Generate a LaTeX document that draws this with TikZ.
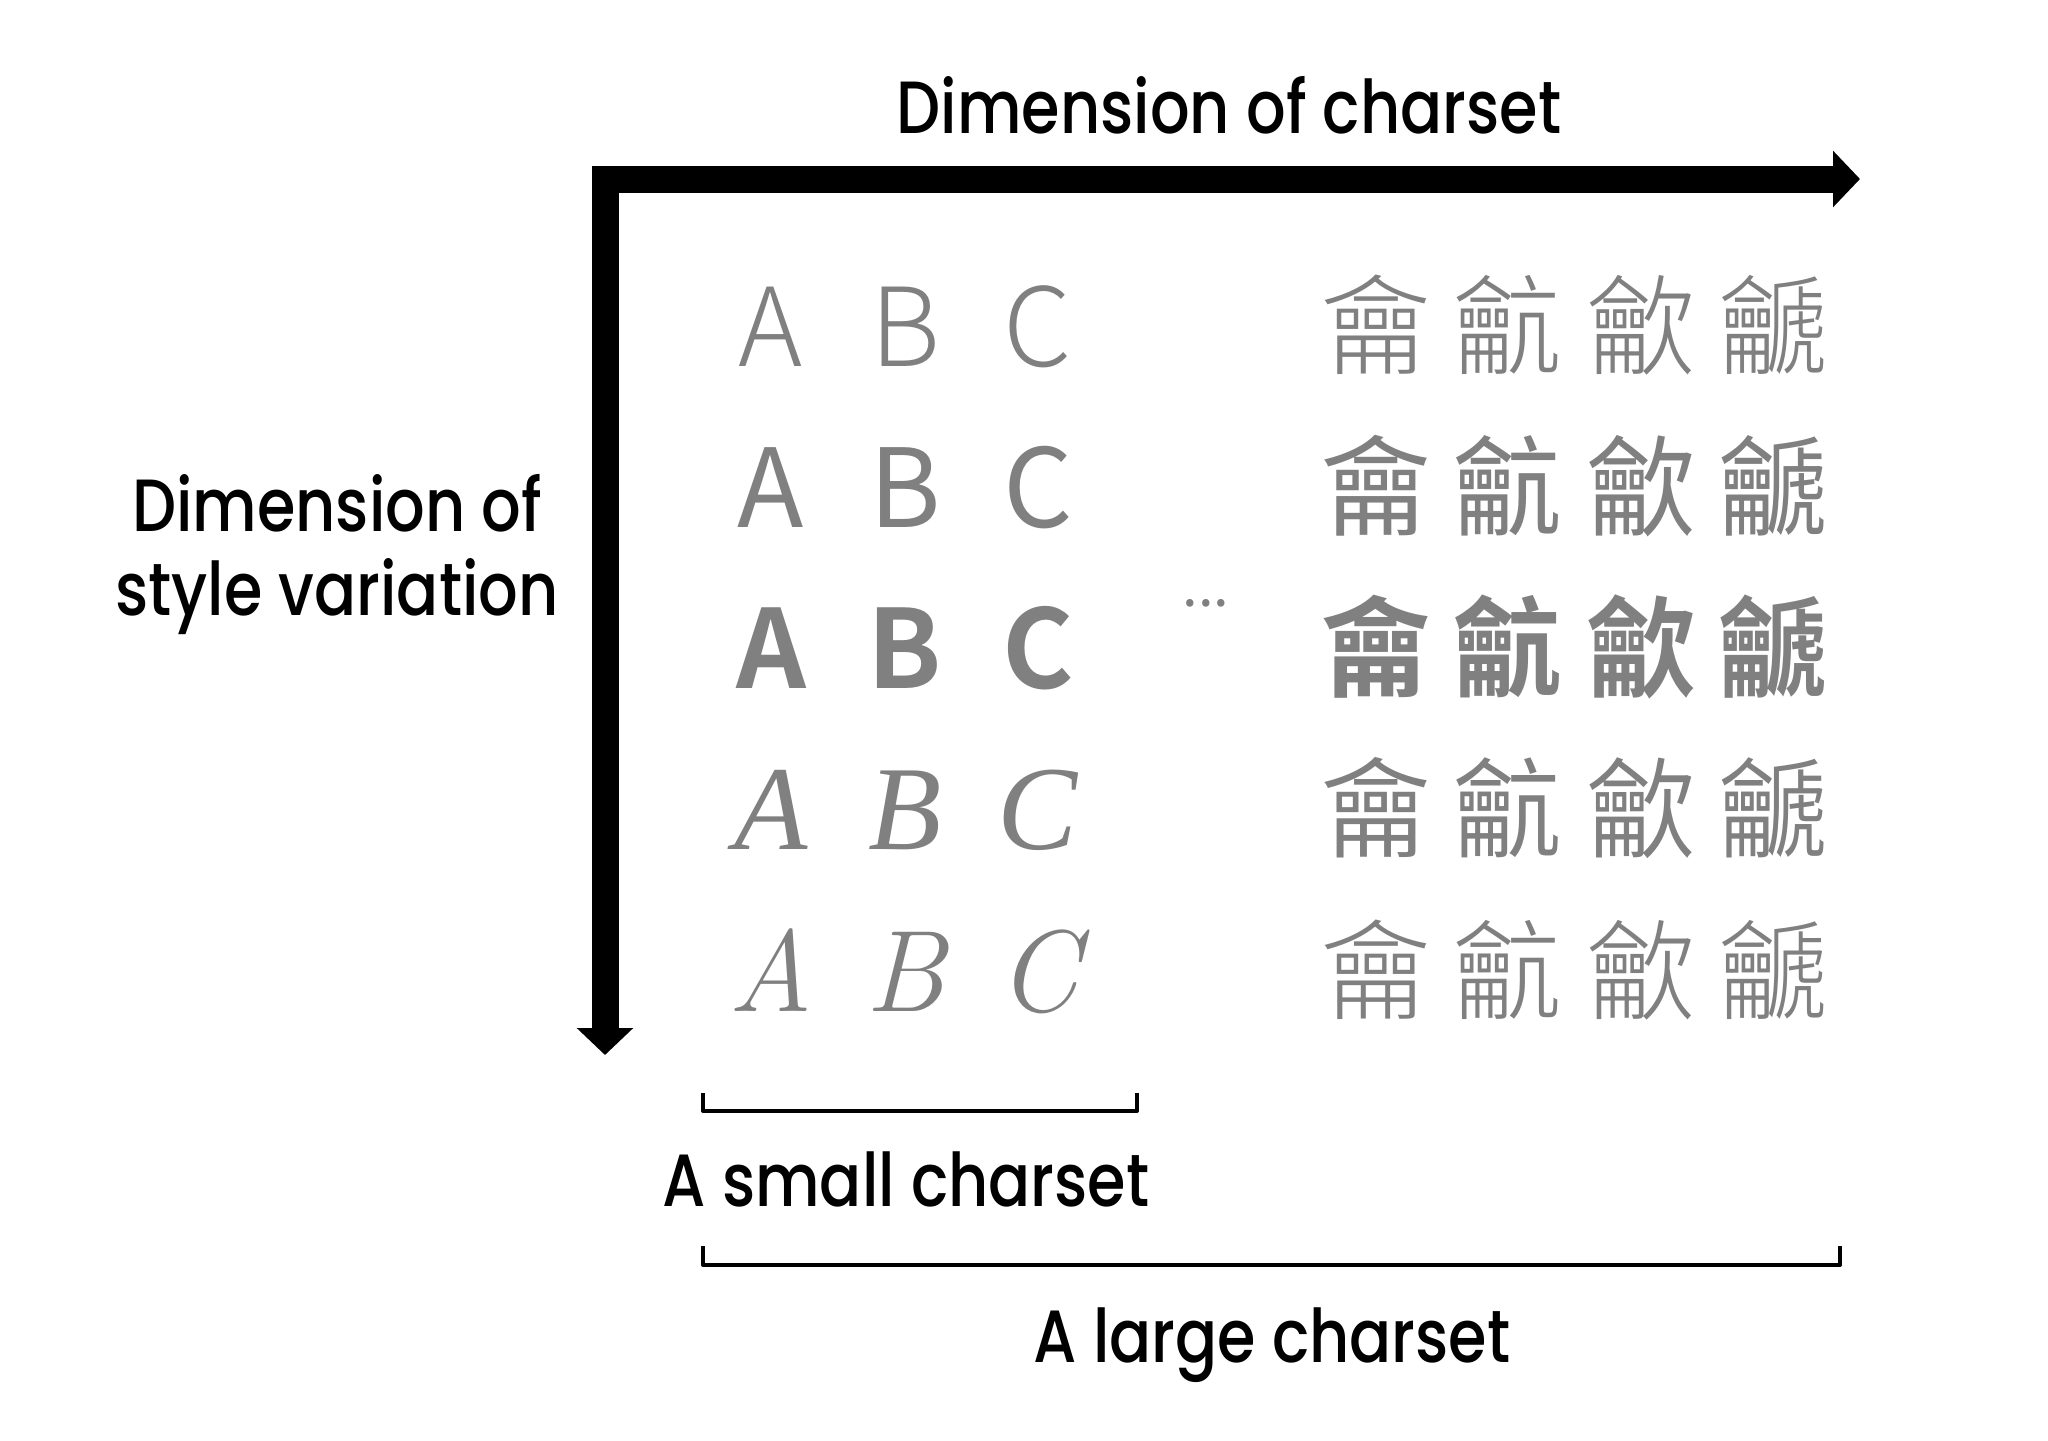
\documentclass[tikz,border=0pt]{standalone}
\usepackage{fontspec}
\usetikzlibrary{arrows.meta}
\setmainfont{Poppins Medium}[FakeStretch=0.84]
\newfontfamily\cjklight{Noto Sans CJK SC Light}
\newfontfamily\cjkreg{Noto Sans CJK SC}
\newfontfamily\cjkbold{Noto Sans CJK SC Bold}
\newfontfamily\cjkdemi{Noto Sans CJK SC DemiLight}
\newfontfamily\timesfam{Liberation Serif}
\newfontfamily\lmfam{Latin Modern Roman}
\definecolor{glyph}{RGB}{128,128,128}
\newcommand{\gsize}{\fontsize{54.5}{60}\selectfont}

\begin{document}
\begin{tikzpicture}[x=0.5pt, y=-0.5pt,
    every node/.style = {inner sep=0pt, anchor=base, text=glyph},
    axis/.style = {line width=13.5pt, line join=miter,
        {Triangle[length=13.5pt, width=27.5pt]}-{Triangle[length=13.5pt, width=27.5pt]}},
    bracket/.style = {line width=2pt, line join=round},
    dimtext/.style = {text=black, font=\fontsize{37}{42}\selectfont}]
\useasboundingbox (0,0) rectangle (2048,1440);

% axes
\coordinate (O) at (605,179);
\coordinate (X) at (1860,179);
\coordinate (Y) at (605,1055);
\draw[axis] (Y) -- (O) -- (X);
\node[dimtext] (xlab) at (1229,133) {Dimension of charset};
\node[dimtext, align=center] (ylab) at (337,615) {Dimension of\\style variation};

% rows of glyphs
\begin{scope}[nodes = {font=\cjklight\gsize}]
    \node (A1) at (771,366) {A};
    \node (B1) at (905,366) {B};
    \node (C1) at (1038,366) {C};
    \node (D1) at (1376,366) {龠};
    \node (E1) at (1508,366) {䶳};
    \node (F1) at (1641,366) {龡};
    \node (G1) at (1773,366) {䶵};
\end{scope}
\begin{scope}[nodes = {font=\cjkreg\gsize}]
    \node (A2) at (771,527) {A};
    \node (B2) at (905,527) {B};
    \node (C2) at (1038,527) {C};
    \node (D2) at (1376,527) {龠};
    \node (E2) at (1508,527) {䶳};
    \node (F2) at (1641,527) {龡};
    \node (G2) at (1773,527) {䶵};
\end{scope}
\begin{scope}[nodes = {font=\cjkbold\gsize}]
    \node (A3) at (771,688) {A};
    \node (B3) at (905,688) {B};
    \node (C3) at (1038,688) {C};
    \node (D3) at (1376,688) {龠};
    \node (E3) at (1508,688) {䶳};
    \node (F3) at (1641,688) {龡};
    \node (G3) at (1773,688) {䶵};
\end{scope}
\node[font=\cjkreg\fontsize{28}{30}\selectfont, anchor=center] (dots) at (1206,603) {...};
\begin{scope}[nodes = {font=\timesfam\itshape\fontsize{60}{66}\selectfont}]
    \node (A4) at (771,849) {A};
    \node (B4) at (905,849) {B};
    \node (C4) at (1038,849) {C};
\end{scope}
\begin{scope}[nodes = {font=\cjkdemi\gsize}]
    \node (D4) at (1376,849) {龠};
    \node (E4) at (1508,849) {䶳};
    \node (F4) at (1641,849) {龡};
    \node (G4) at (1773,849) {䶵};
\end{scope}
\begin{scope}[nodes = {font=\lmfam\itshape\fontsize{58}{64}\selectfont}]
    \node (A5) at (771,1011) {A};
    \node (B5) at (905,1011) {B};
    \node (C5) at (1038,1011) {C};
\end{scope}
\begin{scope}[nodes = {font=\cjklight\gsize}]
    \node (D5) at (1376,1011) {龠};
    \node (E5) at (1508,1011) {䶳};
    \node (F5) at (1641,1011) {龡};
    \node (G5) at (1773,1011) {䶵};
\end{scope}

% brackets
\coordinate (s1) at (703,1093);
\coordinate (s2) at (1137,1093);
\coordinate (l1) at (703,1246);
\coordinate (l2) at (1840,1246);
\draw[bracket] (s1) -- ++(0,18) -| (s2);
\draw[bracket] (l1) -- ++(0,19) -| (l2);
\node[dimtext] (small) at (906,1206) {A small charset};
\node[dimtext] (large) at (1272,1362) {A large charset};
\end{tikzpicture}
\end{document}
